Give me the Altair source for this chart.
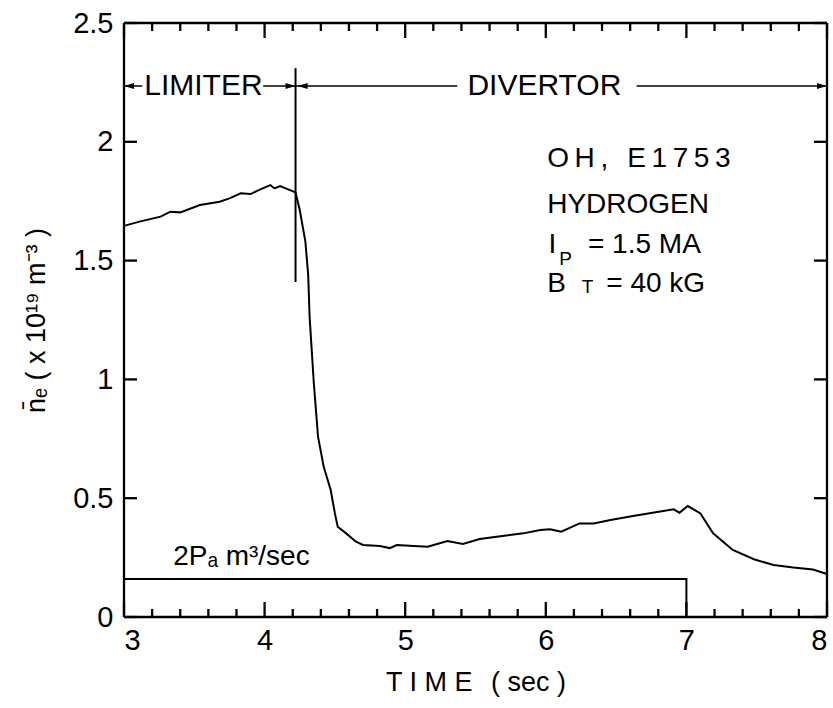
import altair as alt
import pandas as pd

# ---- data ----
time = [3.0, 3.11, 3.26, 3.33, 3.40, 3.54, 3.68, 3.75, 3.83, 3.90, 3.97, 4.04, 4.07,
        4.11, 4.22, 4.25, 4.29, 4.31, 4.32, 4.35, 4.38, 4.42, 4.47, 4.50, 4.52, 4.58,
        4.65, 4.70, 4.82, 4.89, 4.94, 5.06, 5.16, 5.30, 5.41, 5.53, 5.65, 5.84, 5.96,
        6.03, 6.11, 6.24, 6.34, 6.46, 6.62, 6.76, 6.91, 6.95, 7.01, 7.10, 7.19, 7.33,
        7.48, 7.62, 7.76, 7.90, 8.0]
density = [1.646, 1.664, 1.685, 1.706, 1.703, 1.734, 1.748, 1.762, 1.783, 1.780, 1.80,
           1.818, 1.804, 1.814, 1.787, 1.713, 1.58, 1.44, 1.264, 0.985, 0.759, 0.633,
           0.535, 0.436, 0.38, 0.352, 0.317, 0.303, 0.299, 0.29, 0.303, 0.299, 0.296,
           0.32, 0.307, 0.328, 0.338, 0.352, 0.366, 0.369, 0.359, 0.394, 0.394, 0.408,
           0.425, 0.439, 0.453, 0.439, 0.467, 0.436, 0.352, 0.282, 0.243, 0.219, 0.208,
           0.20, 0.181]

gas_t = [3.0, 7.0, 7.0]
gas_v = [0.16, 0.16, 0.0]

x_major = [3, 4, 5, 6, 7, 8]
x_minor = [3.2, 3.4, 3.6, 3.8, 4.2, 4.4, 4.6, 4.8, 5.2, 5.4, 5.6, 5.8,
           6.2, 6.4, 6.6, 6.8, 7.2, 7.4, 7.6, 7.8]
y_major = [0, 0.5, 1, 1.5, 2, 2.5]

switch_t = 4.22
switch_lo, switch_hi = 1.41, 2.31
arrow_y = 2.235
seg_x1 = [3.0, 3.99, 4.22, 6.646]
seg_x2 = [3.13, 4.22, 5.37, 8.0]
head_right_x = [4.22, 8.0]
head_left_x = [3.0, 4.235]

phase_labels = ["LIMITER", "DIVERTOR"]
phase_x = [3.565, 5.99]

# annotation block: text pieces, x, baseline y, font size
info_text = ["O\u2009H\u2009,\u2009\u2009 E\u20091\u20097\u20095\u20093", "HYDROGEN",
             "I", "P", "= 1.5 MA", "B", "T", "= 40 kG"]
info_x = [6.01, 6.01, 6.02, 6.095, 6.30, 6.01, 6.255, 6.43]
info_y = [1.894, 1.70, 1.532, 1.48, 1.532, 1.368, 1.362, 1.368]
info_size = [28, 28, 28, 19, 28, 28, 19, 28]

gas_label = "2P\u2090 m\u00B3/sec"
gas_label_x, gas_label_y = 3.35, 0.219

W, H = 703, 594
FONT = "Liberation Sans"
X0, X1, Y0, Y1 = 3, 8, 0, 2.5

# tick lengths (pixels) expressed in data units
maj_len_y = 15 / H * (Y1 - Y0)
min_len_y = 8 / H * (Y1 - Y0)
ytick_len_x = 13 / W * (X1 - X0)

# frame and inward ticks as two-point polylines (id, order, x, y)
k_id, k_o, k_x, k_y = [], [], [], []
def seg(i, xa, ya, xb, yb):
    k_id.extend([i, i]); k_o.extend([0, 1]); k_x.extend([xa, xb]); k_y.extend([ya, yb])

n = 0
for (xa, ya, xb, yb) in [(X0, Y0, X1, Y0), (X0, Y1, X1, Y1), (X0, Y0, X0, Y1), (X1, Y0, X1, Y1)]:
    seg(n, xa, ya, xb, yb); n += 1
for t in x_major:
    seg(n, t, Y0, t, Y0 + maj_len_y); n += 1
    seg(n, t, Y1, t, Y1 - maj_len_y); n += 1
for t in x_minor:
    seg(n, t, Y0, t, Y0 + min_len_y); n += 1
    seg(n, t, Y1, t, Y1 - min_len_y); n += 1
for v in y_major:
    seg(n, X0, v, X0 + ytick_len_x, v); n += 1
    seg(n, X1, v, X1 - ytick_len_x, v); n += 1

xs = alt.Scale(domain=[X0, X1], nice=False, zero=False)
ys = alt.Scale(domain=[Y0, Y1], nice=False, zero=True)

ax_x = alt.Axis(values=x_major, format="d", ticks=False, domain=False, grid=False,
                labelFontSize=29, labelFont=FONT, labelColor="black", labelPadding=9,
                title="T I M E\u2009\u2009 ( sec )", titleFont=FONT, titleFontSize=27,
                titleFontWeight="normal", titleColor="black", titlePadding=14)
ax_y = alt.Axis(values=y_major, labelExpr="datum.value == 0 ? '0' : format(datum.value, '.2~f')",
                ticks=False, domain=False, grid=False,
                labelFontSize=29, labelFont=FONT, labelColor="black", labelPadding=11,
                title="n\u0304\u2091  ( x 10\u00B9\u2079 m\u207B\u00B3 )", titleFont=FONT,
                titleFontSize=27, titleFontWeight="normal", titleColor="black",
                titlePadding=22)

df = pd.DataFrame({"t": time, "n": density})
line = alt.Chart(df).mark_line(color="black", strokeWidth=2).encode(
    x=alt.X("t:Q", scale=xs, axis=ax_x),
    y=alt.Y("n:Q", scale=ys, axis=ax_y),
)

gas_df = pd.DataFrame({"gt": gas_t, "gv": gas_v, "go": [0, 1, 2]})
gas = alt.Chart(gas_df).mark_line(color="black", strokeWidth=2).encode(
    x=alt.X("gt:Q", scale=xs), y=alt.Y("gv:Q", scale=ys), order="go:Q")

frame = alt.Chart(pd.DataFrame({"kid": k_id, "ko": k_o, "kx": k_x, "ky": k_y})).mark_line(
    color="black", strokeWidth=2.3).encode(
    x=alt.X("kx:Q", scale=xs), y=alt.Y("ky:Q", scale=ys),
    detail="kid:N", order="ko:Q")

switch = alt.Chart(pd.DataFrame({"st": [switch_t], "sa": [switch_lo], "sb": [switch_hi]})).mark_rule(
    color="black", strokeWidth=2).encode(x=alt.X("st:Q", scale=xs), y=alt.Y("sa:Q", scale=ys), y2="sb:Q")

segs = alt.Chart(pd.DataFrame({"s1": seg_x1, "s2": seg_x2, "sy": [arrow_y] * len(seg_x1)})).mark_rule(
    color="black", strokeWidth=1.5).encode(x=alt.X("s1:Q", scale=xs), x2="s2:Q", y=alt.Y("sy:Q", scale=ys))

right_path = "M0,0L-1,-0.3L-1,0.3Z"
left_path = "M0,0L1,-0.3L1,0.3Z"
heads_r = alt.Chart(pd.DataFrame({"hr": head_right_x, "hry": [arrow_y] * 2})).mark_point(
    shape=right_path, filled=True, color="black", size=400, opacity=1).encode(
    x=alt.X("hr:Q", scale=xs), y=alt.Y("hry:Q", scale=ys))
heads_l = alt.Chart(pd.DataFrame({"hl": head_left_x, "hly": [arrow_y] * 2})).mark_point(
    shape=left_path, filled=True, color="black", size=400, opacity=1).encode(
    x=alt.X("hl:Q", scale=xs), y=alt.Y("hly:Q", scale=ys))

phases = alt.Chart(pd.DataFrame({"px": phase_x, "py": [arrow_y] * 2, "ps": phase_labels})).mark_text(
    font=FONT, fontSize=30, color="black", align="center", baseline="middle").encode(
    x=alt.X("px:Q", scale=xs), y=alt.Y("py:Q", scale=ys), text="ps:N")

info = alt.Chart(pd.DataFrame({"ix": info_x, "iy": info_y, "its": info_text, "isz": info_size})).mark_text(
    font=FONT, color="black", align="left", baseline="alphabetic").encode(
    x=alt.X("ix:Q", scale=xs), y=alt.Y("iy:Q", scale=ys), text="its:N",
    size=alt.Size("isz:Q", scale=None, legend=None))

gas_txt = alt.Chart(pd.DataFrame({"lx": [gas_label_x], "ly": [gas_label_y], "ls": [gas_label]})).mark_text(
    font=FONT, fontSize=28, color="black", align="left", baseline="alphabetic").encode(
    x=alt.X("lx:Q", scale=xs), y=alt.Y("ly:Q", scale=ys), text="ls:N")

chart = alt.layer(line, gas, frame, switch, segs, heads_r, heads_l,
                  phases, info, gas_txt).properties(
    width=W, height=H,
    autosize=alt.AutoSizeParams(type="none"),
    padding={"left": 124, "top": 23, "right": 6, "bottom": 91},
)

chart.save("out.html", embed_options={"renderer": "svg", "actions": False})
